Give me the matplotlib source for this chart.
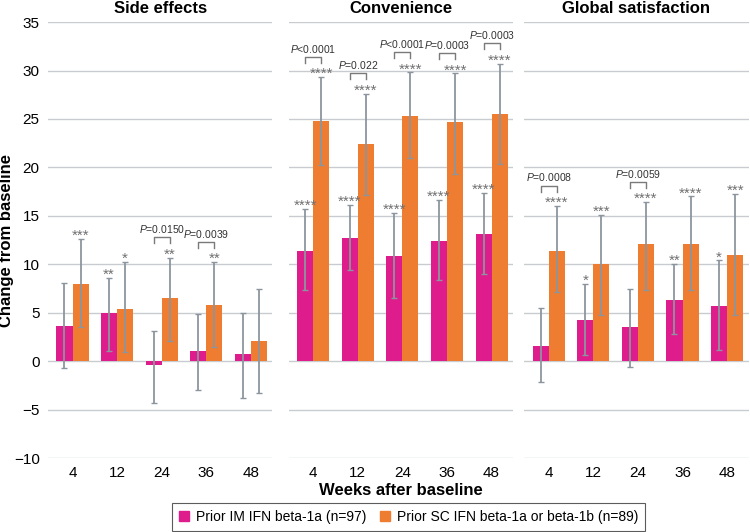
import matplotlib.pyplot as plt
from matplotlib.patches import Patch
import numpy as np

plt.rcParams['font.family'] = ['Liberation Sans', 'DejaVu Sans']
plt.rcParams['mathtext.fontset'] = 'custom'
plt.rcParams['mathtext.it'] = 'Liberation Sans:italic'
plt.rcParams['mathtext.rm'] = 'Liberation Sans'

weeks = ['4', '12', '24', '36', '48']
panels = ['Side effects', 'Convenience', 'Global satisfaction']

# Prior IM IFN beta-1a: mean, lower and upper ends of the error bars
im_mean = [[3.6, 5.0, -0.4, 1.1, 0.7],
           [11.4, 12.7, 10.9, 12.4, 13.1],
           [1.6, 4.3, 3.5, 6.3, 5.7]]
im_low = [[-0.7, 1.1, -4.3, -3.0, -3.8],
          [7.3, 9.4, 6.5, 8.4, 9.0],
          [-2.2, 0.6, -0.6, 2.8, 1.2]]
im_high = [[8.1, 8.6, 3.1, 4.9, 5.0],
           [15.7, 16.1, 15.3, 16.6, 17.4],
           [5.5, 8.0, 7.4, 10.0, 10.4]]

# Prior SC IFN beta-1a or beta-1b
sc_mean = [[8.0, 5.4, 6.5, 5.8, 2.1],
           [24.8, 22.4, 25.3, 24.7, 25.5],
           [11.4, 10.0, 12.1, 12.1, 11.0]]
sc_low = [[3.5, 0.9, 2.1, 1.5, -3.3],
          [20.2, 17.2, 21.0, 19.3, 20.4],
          [7.1, 4.8, 7.3, 7.3, 4.8]]
sc_high = [[12.6, 10.2, 10.7, 10.2, 7.5],
           [29.3, 27.6, 29.8, 29.7, 30.7],
           [16.0, 15.1, 16.4, 17.0, 17.3]]

im_stars = [['', '**', '', '', ''],
            ['****'] * 5,
            ['', '*', '', '**', '*']]
sc_stars = [['***', '*', '**', '**', ''],
            ['****'] * 5,
            ['****', '***', '****', '****', '***']]
pvals = [['', '', '=0.0150', '=0.0039', ''],
         ['<0.0001', '=0.022', '<0.0001', '=0.0003', '=0.0003'],
         ['=0.0008', '', '=0.0059', '', '']]

pink = '#df1c8c'
orange = '#ee7d31'
errc = '#8c959e'
gridc = '#c8ccd0'

fig = plt.figure(figsize=(7.5, 5.32), dpi=100)
lefts = [0.064, 0.385, 0.699]
w = 0.36
x = np.arange(len(weeks))

for i, name in enumerate(panels):
    ax = fig.add_axes([lefts[i], 0.139, 0.299, 0.8195])
    m1, m2 = np.array(im_mean[i]), np.array(sc_mean[i])
    ax.bar(x - w, m1, w, align='edge', color=pink, zorder=2)
    ax.bar(x, m2, w, align='edge', color=orange, zorder=2)
    ax.errorbar(x - w / 2, m1, yerr=[m1 - np.array(im_low[i]), np.array(im_high[i]) - m1],
                fmt='none', ecolor=errc, elinewidth=1.3, capsize=2, capthick=1, zorder=3)
    ax.errorbar(x + w / 2, m2, yerr=[m2 - np.array(sc_low[i]), np.array(sc_high[i]) - m2],
                fmt='none', ecolor=errc, elinewidth=1.3, capsize=2, capthick=1, zorder=3)
    for j in range(len(weeks)):
        if im_stars[i][j]:
            ax.text(x[j] - w / 2, im_high[i][j] - 0.4, im_stars[i][j], ha='center', va='bottom',
                    fontsize=11, color='#707070')
        if sc_stars[i][j]:
            ax.text(x[j] + w / 2, sc_high[i][j] - 0.4, sc_stars[i][j], ha='center', va='bottom',
                    fontsize=11, color='#707070')
        if pvals[i][j]:
            yb = sc_high[i][j] + 2.1
            ax.plot([x[j] - w / 2, x[j] - w / 2, x[j] + w / 2, x[j] + w / 2],
                    [yb - 0.6, yb, yb, yb - 0.6], color='#7a7a7a', lw=1)
            ax.text(x[j], yb + 0.25, r'$\it{P}$' + pvals[i][j], ha='center', va='bottom',
                    fontsize=7.5, color='#333333')
    ax.set_ylim(-10, 35)
    ax.set_xlim(-0.55, 4.48)
    ax.set_yticks(range(-10, 36, 5))
    ax.set_xticks(x)
    ax.set_xticklabels(weeks, fontsize=11)
    ax.yaxis.grid(True, color=gridc, lw=1)
    ax.set_axisbelow(True)
    for s in ax.spines.values():
        s.set_visible(False)
    ax.tick_params(length=0, pad=6)
    if i == 0:
        ax.set_yticklabels(['\u221210', '\u22125', '0', '5', '10', '15', '20', '25', '30', '35'], fontsize=11)
        ax.set_ylabel('Change from baseline', fontsize=12, fontweight='bold')
        ax.yaxis.set_label_coords(-0.15, 0.5)
    else:
        ax.set_yticklabels([])
    if i == 1:
        ax.set_xlabel('Weeks after baseline', fontsize=12, fontweight='bold', labelpad=2)
    ax.set_title(name, fontsize=12, fontweight='bold', pad=6.5)

handles = [Patch(color=pink, label='Prior IM IFN beta-1a (n=97)'),
           Patch(color=orange, label='Prior SC IFN beta-1a or beta-1b (n=89)')]
leg = fig.legend(handles=handles, loc='center', bbox_to_anchor=(0.545, 0.028), ncol=2,
                 fontsize=10, frameon=True, fancybox=False, edgecolor='#333333',
                 handlelength=0.7, handleheight=0.7, handletextpad=0.5, columnspacing=1.0,
                 borderpad=0.5)
leg.get_frame().set_linewidth(0.8)

fig.savefig('out.png', dpi=100)
